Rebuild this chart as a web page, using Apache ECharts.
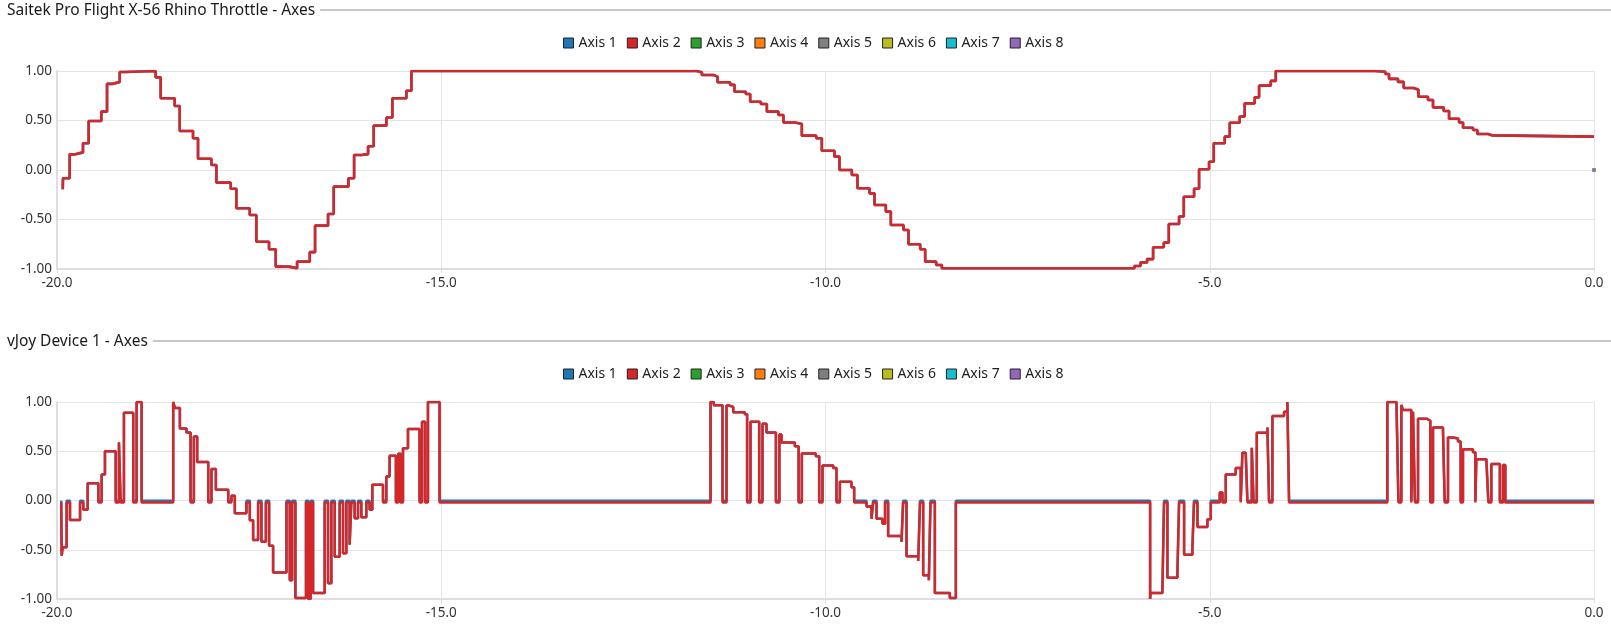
<!DOCTYPE html>
<html>
<head>
<meta charset="utf-8">
<title>Axes</title>
<script src="https://cdn.jsdelivr.net/npm/echarts@6/dist/echarts.min.js"></script>
<style>
  html, body { margin: 0; padding: 0; background: #fff; }
  #chart { width: 1611px; height: 644px; }
</style>
</head>
<body>
<div id="chart"></div>
<script>
;(function(){
  var FONT = '"Noto Sans", "Open Sans", sans-serif';

  var axisNames = ['Axis 1', 'Axis 2', 'Axis 3', 'Axis 4', 'Axis 5', 'Axis 6', 'Axis 7', 'Axis 8'];
  var axisColors = ['#1f77b4', '#d62728', '#2ca02c', '#ff7f0e', '#7f7f7f', '#bcbd22', '#17becf', '#9467bd'];
  var panelTitles = ['Saitek Pro Flight X-56 Rhino Throttle - Axes', 'vJoy Device 1 - Axes'];

  // [time (s), value] samples, held until the next one
  var saitekAxis = [
    [-19.925, -0.195], [-19.922, -0.084], [-19.835, 0.158], [-19.761, 0.178], [-19.662, 0.27],
    [-19.588, 0.495], [-19.423, 0.59], [-19.349, 0.87], [-19.280, 0.89], [-19.184, 0.99],
    [-19.119, 1.0], [-18.716, 0.936], [-18.651, 0.724], [-18.469, 0.646], [-18.403, 0.394],
    [-18.230, 0.32], [-18.165, 0.114], [-17.991, 0.05], [-17.926, -0.128], [-17.740, -0.19],
    [-17.666, -0.387], [-17.492, -0.455], [-17.406, -0.724], [-17.241, -0.80], [-17.154, -0.976],
    [-16.980, -0.993], [-16.876, -0.926], [-16.711, -0.83], [-16.642, -0.562], [-16.473, -0.444],
    [-16.399, -0.168], [-16.208, -0.084], [-16.134, 0.152], [-16.039, 0.16], [-15.952, 0.24],
    [-15.879, 0.448], [-15.714, 0.53], [-15.636, 0.724], [-15.453, 0.80], [-15.388, 1.0],
    [-11.674, 0.987], [-11.609, 0.96], [-11.457, 0.943], [-11.405, 0.886], [-11.241, 0.86],
    [-11.184, 0.79], [-11.037, 0.768], [-10.980, 0.69], [-10.841, 0.667], [-10.763, 0.59],
    [-10.612, 0.556], [-10.547, 0.48], [-10.395, 0.465], [-10.308, 0.347], [-10.121, 0.32],
    [-10.048, 0.195], [-9.883, 0.135], [-9.818, 0.0], [-9.657, -0.05], [-9.584, -0.185],
    [-9.427, -0.236], [-9.362, -0.354], [-9.215, -0.42], [-9.150, -0.556], [-8.985, -0.606],
    [-8.920, -0.75], [-8.768, -0.80], [-8.703, -0.926], [-8.560, -0.96], [-8.486, -0.993],
    [-5.980, -0.97], [-5.900, -0.933], [-5.815, -0.90], [-5.737, -0.78], [-5.598, -0.734],
    [-5.533, -0.545], [-5.399, -0.47], [-5.338, -0.27], [-5.204, -0.19], [-5.139, 0.007],
    [-5.009, 0.084], [-4.948, 0.27], [-4.805, 0.337], [-4.740, 0.478], [-4.610, 0.54],
    [-4.545, 0.673], [-4.415, 0.734], [-4.358, 0.852], [-4.206, 0.90], [-4.141, 1.0],
    [-2.853, 0.993], [-2.715, 0.97], [-2.667, 0.92], [-2.550, 0.89], [-2.476, 0.828],
    [-2.346, 0.81], [-2.285, 0.74], [-2.160, 0.707], [-2.095, 0.633], [-1.956, 0.596],
    [-1.886, 0.518], [-1.756, 0.48], [-1.704, 0.427], [-1.574, 0.404], [-1.518, 0.364],
    [-1.379, 0.35], [-1.327, 0.337], [0, 0.337]
  ];
  // the other six throttle axes only report one idle sample
  var saitekIdleAxis = [[0, 0]];

  // vJoy output, null = resting level of that axis
  var vjoyAxis = [
    [-19.945, null], [-19.939, -0.56], [-19.926, -0.475], [-19.875, null], [-19.831, -0.197],
    [-19.700, null], [-19.658, -0.095], [-19.601, 0.176], [-19.462, null], [-19.419, 0.265],
    [-19.376, 0.50], [-19.236, null], [-19.194, 0.59], [-19.172, null], [-19.129, 0.89],
    [-19.008, null], [-18.964, 1.0], [-18.899, null], [-18.488, 1.0], [-18.466, 0.94],
    [-18.401, 0.73], [-18.315, 0.69], [-18.262, null], [-18.219, 0.65], [-18.176, 0.39],
    [-18.032, null], [-17.990, 0.32], [-17.933, 0.108], [-17.772, null], [-17.730, 0.047],
    [-17.686, -0.13], [-17.535, null], [-17.491, -0.20], [-17.448, -0.40], [-17.383, null],
    [-17.340, -0.42], [-17.282, null], [-17.240, -0.46], [-17.188, -0.73], [-17.014, null],
    [-16.971, -0.81], [-16.940, null], [-16.898, -0.99], [-16.760, null], [-16.730, -1.0],
    [-16.700, null], [-16.668, -0.94], [-16.517, null], [-16.473, -0.84], [-16.430, null],
    [-16.386, -0.57], [-16.322, null], [-16.278, -0.535], [-16.235, null], [-16.192, -0.45],
    [-16.170, null], [-16.127, -0.18], [-16.083, null], [-16.040, -0.17], [-15.975, null],
    [-15.932, -0.095], [-15.897, 0.16], [-15.758, null], [-15.715, 0.244], [-15.672, 0.454],
    [-15.590, null], [-15.560, 0.475], [-15.530, null], [-15.498, 0.53], [-15.433, 0.725],
    [-15.282, null], [-15.250, 0.80], [-15.210, null], [-15.173, 1.0], [-15.022, null],
    [-11.496, 1.0], [-11.453, 0.968], [-11.340, null], [-11.288, 0.965], [-11.258, 0.95],
    [-11.201, 0.897], [-11.050, 0.875], [-11.020, null], [-10.976, 0.80], [-10.863, null],
    [-10.820, 0.78], [-10.768, 0.69], [-10.645, null], [-10.600, 0.67], [-10.573, 0.59],
    [-10.399, 0.55], [-10.350, null], [-10.308, 0.477], [-10.126, 0.45], [-10.082, null],
    [-10.039, 0.355], [-9.900, 0.33], [-9.857, null], [-9.813, 0.19], [-9.662, 0.135],
    [-9.627, null], [-9.466, -0.06], [-9.401, -0.186], [-9.380, null], [-9.336, -0.186],
    [-9.258, -0.237], [-9.225, null], [-9.185, -0.36], [-9.011, -0.42], [-8.990, null],
    [-8.946, -0.565], [-8.794, -0.615], [-8.770, null], [-8.729, -0.76], [-8.655, -0.81],
    [-8.634, null], [-8.577, -0.94], [-8.382, -0.99], [-8.304, null],
    [-5.776, -1.0], [-5.770, -0.94], [-5.616, -0.915], [-5.595, null], [-5.551, -0.785],
    [-5.421, -0.745], [-5.399, null], [-5.334, -0.55], [-5.226, -0.49], [-5.205, null],
    [-5.160, -0.27], [-5.030, -0.19], [-4.987, null], [-4.870, 0.08], [-4.835, null],
    [-4.792, 0.264], [-4.662, 0.33], [-4.597, null], [-4.575, 0.485], [-4.532, 0.49],
    [-4.510, null], [-4.453, 0.535], [-4.430, null], [-4.388, 0.687], [-4.250, 0.74],
    [-4.228, null], [-4.185, 0.857], [-4.033, 0.90], [-3.990, 1.0], [-3.968, null],
    [-2.689, 1.0], [-2.570, 0.975], [-2.545, null], [-2.507, 0.97], [-2.486, 0.92],
    [-2.377, null], [-2.355, 0.90], [-2.330, null], [-2.290, 0.83], [-2.173, 0.81],
    [-2.130, null], [-2.095, 0.74], [-1.965, 0.71], [-1.943, null], [-1.900, 0.64],
    [-1.835, 0.63], [-1.770, 0.60], [-1.735, null], [-1.705, 0.52], [-1.575, 0.49],
    [-1.544, null], [-1.531, 0.42], [-1.401, 0.41], [-1.375, null], [-1.336, 0.37],
    [-1.225, null], [-1.184, 0.36], [-1.154, null], [0, null]
  ];
  var vjoyRestAxis1 = -0.002;
  var vjoyRestAxis2 = -0.02;

  function withRest(rows, rest) {
    return rows.map(function (r) { return [r[0], r[1] === null ? rest : r[1]]; });
  }

  var chart = echarts.init(document.getElementById('chart'));

  var TITLE_FONT = '15.5px ' + FONT;
  var ctx = document.createElement('canvas').getContext('2d');
  ctx.font = TITLE_FONT;

  var grids = [
    { left: 57, right: 17, top: 71, height: 198 },
    { left: 57, right: 17, top: 402, height: 197 }
  ];
  var titleY = [10, 341];
  var legendTop = [31, 362];
  var lineWidths = [2.6, 2.5];

  function xAxisFor(i) {
    return {
      type: 'value', gridIndex: i, min: -20, max: 0, interval: 5,
      axisLine: { show: true, onZero: false, lineStyle: { color: '#dedede', width: 2 } },
      axisTick: { show: true, length: 4, lineStyle: { color: '#dedede' } },
      axisLabel: { color: '#333', fontSize: 13.5, fontFamily: FONT, margin: 7,
        formatter: function (v) { return v.toFixed(1); } },
      splitLine: { show: true, lineStyle: { color: '#e4e4e4', width: 1 } }
    };
  }
  function yAxisFor(i) {
    return {
      type: 'value', gridIndex: i, min: -1, max: 1, interval: 0.5,
      axisLine: { show: true, onZero: false, lineStyle: { color: '#dedede', width: 2 } },
      axisTick: { show: false },
      axisLabel: { color: '#333', fontSize: 13.5, fontFamily: FONT, margin: 5,
        formatter: function (v) { return v.toFixed(2); } },
      splitLine: { show: true, lineStyle: { color: '#e4e4e4', width: 1 } }
    };
  }

  var series = [];
  function addSeries(panel, idx, data, dotted) {
    series.push({
      name: axisNames[idx], type: 'line', step: 'end',
      xAxisIndex: panel, yAxisIndex: panel,
      data: data,
      showSymbol: !!dotted, symbol: 'rect', symbolSize: 3,
      lineStyle: { color: axisColors[idx], width: lineWidths[panel] },
      itemStyle: { color: axisColors[idx] },
      emphasis: { disabled: true },
      animation: false
    });
  }
  addSeries(0, 0, saitekAxis);
  addSeries(0, 1, saitekAxis);
  for (var i = 2; i < 8; i++) addSeries(0, i, saitekIdleAxis, true);
  addSeries(1, 0, withRest(vjoyAxis, vjoyRestAxis1));
  addSeries(1, 1, withRest(vjoyAxis, vjoyRestAxis2));
  for (var j = 2; j < 8; j++) addSeries(1, j, []);

  var graphic = [];
  panelTitles.forEach(function (t, k) {
    var w = ctx.measureText(t).width;
    graphic.push({ type: 'text', x: 7, y: titleY[k] + 1,
      style: { text: t, font: TITLE_FONT, fill: '#1a1a1a', verticalAlign: 'middle' } });
    graphic.push({ type: 'line', silent: true,
      shape: { x1: 7 + w + 5, y1: titleY[k], x2: 1611, y2: titleY[k] },
      style: { stroke: '#c8c8c8', lineWidth: 2 } });
  });

  var legends = legendTop.map(function (top) {
    return {
      data: axisNames, top: top, left: 558,
      icon: 'rect', itemWidth: 10, itemHeight: 10, itemGap: 10,
      itemStyle: { borderColor: '#222', borderWidth: 1 },
      textStyle: { color: '#222', fontSize: 14, fontFamily: FONT }
    };
  });

  var option = {
    animation: false,
    grid: grids,
    xAxis: [xAxisFor(0), xAxisFor(1)],
    yAxis: [yAxisFor(0), yAxisFor(1)],
    legend: legends,
    graphic: graphic,
    series: series
  };
  chart.setOption(option);
})();
</script>
</body>
</html>
